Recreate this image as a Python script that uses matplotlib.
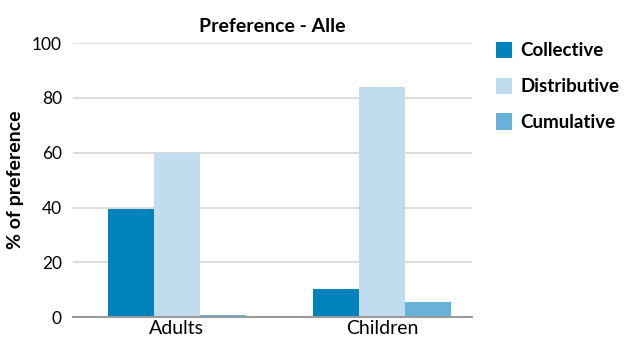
import numpy as np
import matplotlib.pyplot as plt

plt.rcParams['font.family'] = ['Lato', 'DejaVu Sans']

groups = ['Adults', 'Children']
series = ['Collective', 'Distributive', 'Cumulative']
collective = [39.5, 10.5]
distributive = [60.0, 84.0]
cumulative = [0.7, 5.5]
colors = ['#0083BD', '#C1DCEE', '#68B1D9']

fig = plt.figure(figsize=(6.32, 3.44), dpi=100)
ax = fig.add_axes([0.1155, 0.0776, 0.631, 0.7974])

x = np.arange(len(groups))
w = 0.224
for i, (name, vals) in enumerate(zip(series, [collective, distributive, cumulative])):
    ax.bar(x + (i - 1) * w, vals, width=w, color=colors[i], label=name, zorder=3)

ax.set_xlim(-0.504, 1.437)
ax.set_ylim(0, 100)
ax.set_yticks([0, 20, 40, 60, 80, 100])
ax.set_xticks(x)
ax.set_xticklabels(groups, fontsize=14)
ax.tick_params(axis='y', labelsize=12.5, length=0, pad=8)
ax.tick_params(axis='x', length=0, pad=2)
ax.yaxis.grid(True, color='#D6D6D6', linewidth=1.2, zorder=0)
for s in ['top', 'right', 'left']:
    ax.spines[s].set_visible(False)
ax.spines['bottom'].set_color('#9A9A9A')
ax.spines['bottom'].set_linewidth(1.5)
ax.spines['bottom'].set_zorder(4)

ax.set_ylabel('% of preference', fontsize=14, fontweight='bold', labelpad=6)
ax.set_title('Preference - Alle', fontsize=14, fontweight='bold', pad=8)

leg = ax.legend(loc='upper left', bbox_to_anchor=(1.06, 1.005), frameon=False,
                prop={'weight': 'bold', 'size': 13.5},
                handlelength=0.85, handleheight=0.95, handletextpad=0.45,
                labelspacing=0.98, borderaxespad=0, borderpad=0)

fig.savefig('out.png', dpi=100)
